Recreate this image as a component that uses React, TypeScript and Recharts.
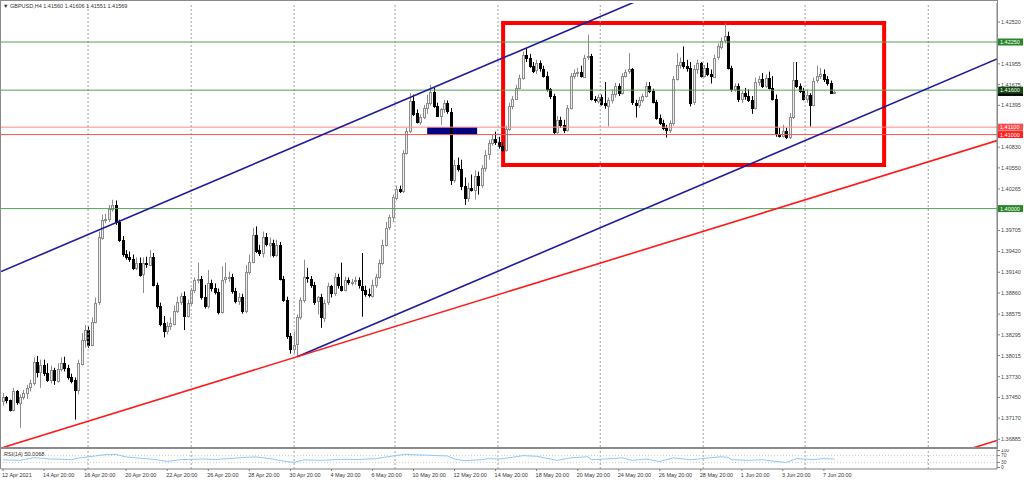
import React from 'react';
import { ComposedChart, Bar, Line, XAxis, YAxis, ReferenceLine, ReferenceArea } from 'recharts';

// ---------- data ----------
const symbolTitle = '▼ GBPUSD,H4  1.41560 1.41606 1.41551 1.41569';
const rsiTitle = 'RSI(14) 50.0068';

// H4 candles [open, high, low, close], from 12 Apr 2021 20:00
const candles: number[][] = [
[1.3739,1.3751,1.3734,1.3745],[1.3745,1.3747,1.3737,1.3741],[1.3741,1.3742,1.3726,1.3728],[1.3728,1.3758,1.3726,1.3753],
[1.3753,1.3755,1.3735,1.3738],[1.3738,1.3749,1.3704,1.3746],[1.3746,1.3755,1.3742,1.3751],[1.3751,1.3762,1.3743,1.3758],
[1.3758,1.3769,1.3753,1.3764],[1.3764,1.3799,1.3761,1.3793],[1.3793,1.3801,1.3772,1.3780],[1.3780,1.3796,1.3758,1.3789],
[1.3789,1.3796,1.3774,1.3778],[1.3778,1.3791,1.3766,1.3769],[1.3769,1.3788,1.3764,1.3782],[1.3782,1.3785,1.3762,1.3768],
[1.3768,1.3791,1.3765,1.3784],[1.3784,1.3799,1.3780,1.3792],[1.3792,1.3800,1.3780,1.3785],[1.3785,1.3789,1.3769,1.3773],
[1.3773,1.3777,1.3764,1.3768],[1.3768,1.3772,1.3715,1.3755],[1.3755,1.3796,1.3749,1.3791],[1.3791,1.3832,1.3788,1.3823],
[1.3823,1.3843,1.3812,1.3836],[1.3836,1.3841,1.3812,1.3816],[1.3816,1.3853,1.3814,1.3847],[1.3847,1.3880,1.3845,1.3873],
[1.3873,1.3969,1.3870,1.3961],[1.3961,1.3992,1.3958,1.3985],[1.3985,1.3993,1.3980,1.3986],[1.3986,1.4005,1.3982,1.4000],
[1.4000,1.4012,1.3996,1.4005],[1.4005,1.4011,1.3978,1.3982],[1.3982,1.3985,1.3955,1.3958],[1.3958,1.3963,1.3935,1.3939],
[1.3939,1.3944,1.3931,1.3935],[1.3935,1.3942,1.3928,1.3932],[1.3932,1.3938,1.3917,1.3920],[1.3920,1.3934,1.3917,1.3927],
[1.3927,1.3934,1.3908,1.3911],[1.3911,1.3934,1.3886,1.3926],[1.3926,1.3935,1.3920,1.3924],[1.3924,1.3944,1.3923,1.3935],
[1.3935,1.3940,1.3895,1.3897],[1.3897,1.3900,1.3865,1.3869],[1.3869,1.3873,1.3841,1.3845],[1.3845,1.3855,1.3826,1.3834],
[1.3834,1.3847,1.3830,1.3841],[1.3841,1.3853,1.3836,1.3845],[1.3845,1.3869,1.3842,1.3862],[1.3862,1.3881,1.3859,1.3874],
[1.3874,1.3886,1.3870,1.3882],[1.3882,1.3888,1.3836,1.3855],[1.3855,1.3877,1.3853,1.3873],[1.3873,1.3893,1.3869,1.3890],
[1.3890,1.3907,1.3886,1.3903],[1.3903,1.3927,1.3899,1.3905],[1.3905,1.3909,1.3877,1.3881],[1.3881,1.3897,1.3865,1.3869],
[1.3869,1.3917,1.3865,1.3900],[1.3900,1.3904,1.3888,1.3893],[1.3893,1.3899,1.3884,1.3888],[1.3888,1.3892,1.3857,1.3861],
[1.3861,1.3922,1.3858,1.3904],[1.3904,1.3927,1.3899,1.3907],[1.3907,1.3915,1.3901,1.3908],[1.3908,1.3912,1.3885,1.3889],
[1.3889,1.3893,1.3872,1.3876],[1.3876,1.3886,1.3870,1.3881],[1.3881,1.3885,1.3858,1.3862],[1.3862,1.3924,1.3859,1.3915],
[1.3915,1.3938,1.3911,1.3928],[1.3928,1.3974,1.3926,1.3965],[1.3965,1.3976,1.3940,1.3944],[1.3944,1.3951,1.3936,1.3940],
[1.3940,1.3969,1.3934,1.3961],[1.3961,1.3967,1.3949,1.3951],[1.3951,1.3961,1.3935,1.3954],[1.3954,1.3958,1.3934,1.3938],
[1.3938,1.3958,1.3935,1.3951],[1.3951,1.3955,1.3903,1.3905],[1.3905,1.3909,1.3874,1.3877],[1.3877,1.3881,1.3824,1.3828],
[1.3828,1.3832,1.3804,1.3811],[1.3811,1.3834,1.3805,1.3816],[1.3816,1.3857,1.3800,1.3853],[1.3853,1.3880,1.3850,1.3876],
[1.3876,1.3931,1.3873,1.3907],[1.3907,1.3920,1.3900,1.3905],[1.3905,1.3909,1.3893,1.3897],[1.3897,1.3901,1.3870,1.3874],
[1.3874,1.3882,1.3857,1.3880],[1.3880,1.3885,1.3839,1.3853],[1.3853,1.3877,1.3847,1.3873],[1.3873,1.3900,1.3870,1.3895],
[1.3895,1.3897,1.3880,1.3885],[1.3885,1.3913,1.3882,1.3907],[1.3907,1.3912,1.3892,1.3896],[1.3896,1.3927,1.3888,1.3890],
[1.3890,1.3908,1.3888,1.3903],[1.3903,1.3907,1.3897,1.3900],[1.3900,1.3905,1.3896,1.3901],[1.3901,1.3908,1.3897,1.3903],
[1.3903,1.3907,1.3892,1.3896],[1.3896,1.3940,1.3854,1.3890],[1.3890,1.3896,1.3881,1.3884],[1.3884,1.3892,1.3880,1.3882],
[1.3882,1.3904,1.3880,1.3897],[1.3897,1.3912,1.3893,1.3908],[1.3908,1.3931,1.3905,1.3927],[1.3927,1.3958,1.3924,1.3951],
[1.3951,1.3982,1.3949,1.3974],[1.3974,1.3992,1.3971,1.3988],[1.3988,1.4019,1.3982,1.4015],[1.4015,1.4031,1.4011,1.4027],
[1.4027,1.4031,1.4021,1.4024],[1.4024,1.4079,1.4021,1.4075],[1.4075,1.4109,1.4073,1.4105],[1.4105,1.4156,1.4102,1.4146],
[1.4146,1.4154,1.4125,1.4129],[1.4129,1.4134,1.4115,1.4117],[1.4117,1.4127,1.4113,1.4124],[1.4124,1.4140,1.4121,1.4136],
[1.4136,1.4154,1.4128,1.4143],[1.4143,1.4167,1.4139,1.4158],[1.4158,1.4163,1.4136,1.4139],[1.4139,1.4143,1.4124,1.4125],
[1.4125,1.4136,1.4113,1.4134],[1.4134,1.4147,1.4129,1.4142],[1.4142,1.4146,1.4128,1.4131],[1.4131,1.4136,1.4032,1.4039],
[1.4039,1.4066,1.4035,1.4059],[1.4059,1.4069,1.4050,1.4054],[1.4054,1.4066,1.4025,1.4031],[1.4031,1.4042,1.4005,1.4015],
[1.4015,1.4035,1.4009,1.4028],[1.4028,1.4046,1.4023,1.4025],[1.4025,1.4052,1.4012,1.4044],[1.4044,1.4050,1.4019,1.4032],
[1.4032,1.4059,1.4028,1.4055],[1.4055,1.4079,1.4050,1.4073],[1.4073,1.4093,1.4066,1.4088],[1.4088,1.4100,1.4085,1.4094],
[1.4094,1.4104,1.4086,1.4090],[1.4090,1.4097,1.4081,1.4084],[1.4084,1.4090,1.4077,1.4079],[1.4079,1.4112,1.4077,1.4108],
[1.4108,1.4143,1.4105,1.4139],[1.4139,1.4152,1.4134,1.4148],[1.4148,1.4167,1.4147,1.4163],[1.4163,1.4181,1.4161,1.4177],
[1.4177,1.4212,1.4174,1.4208],[1.4208,1.4217,1.4198,1.4204],[1.4204,1.4209,1.4190,1.4193],[1.4193,1.4198,1.4183,1.4186],
[1.4186,1.4201,1.4182,1.4196],[1.4196,1.4200,1.4185,1.4189],[1.4189,1.4193,1.4177,1.4179],[1.4179,1.4185,1.4158,1.4161],
[1.4161,1.4163,1.4148,1.4152],[1.4152,1.4155,1.4100,1.4104],[1.4104,1.4125,1.4101,1.4120],[1.4120,1.4124,1.4109,1.4113],
[1.4113,1.4120,1.4102,1.4106],[1.4106,1.4140,1.4104,1.4136],[1.4136,1.4183,1.4134,1.4179],[1.4179,1.4188,1.4175,1.4183],
[1.4183,1.4190,1.4178,1.4185],[1.4185,1.4193,1.4177,1.4179],[1.4179,1.4208,1.4177,1.4204],[1.4204,1.4235,1.4201,1.4206],
[1.4206,1.4209,1.4146,1.4148],[1.4148,1.4152,1.4143,1.4146],[1.4146,1.4154,1.4142,1.4151],[1.4151,1.4154,1.4139,1.4142],
[1.4142,1.4171,1.4135,1.4139],[1.4139,1.4150,1.4111,1.4147],[1.4147,1.4161,1.4142,1.4155],[1.4155,1.4170,1.4150,1.4166],
[1.4166,1.4169,1.4152,1.4156],[1.4156,1.4183,1.4154,1.4179],[1.4179,1.4188,1.4177,1.4185],[1.4185,1.4210,1.4182,1.4188],
[1.4188,1.4190,1.4140,1.4143],[1.4143,1.4147,1.4123,1.4140],[1.4140,1.4151,1.4136,1.4147],[1.4147,1.4155,1.4143,1.4152],
[1.4152,1.4171,1.4150,1.4166],[1.4166,1.4171,1.4156,1.4159],[1.4159,1.4162,1.4142,1.4144],[1.4144,1.4147,1.4120,1.4123],
[1.4123,1.4127,1.4113,1.4116],[1.4116,1.4120,1.4106,1.4109],[1.4109,1.4113,1.4096,1.4106],[1.4106,1.4119,1.4102,1.4115],
[1.4115,1.4179,1.4112,1.4175],[1.4175,1.4210,1.4173,1.4194],[1.4194,1.4204,1.4189,1.4198],[1.4198,1.4219,1.4189,1.4193],
[1.4193,1.4201,1.4185,1.4190],[1.4190,1.4198,1.4138,1.4143],[1.4143,1.4194,1.4140,1.4188],[1.4188,1.4201,1.4182,1.4196],
[1.4196,1.4198,1.4177,1.4179],[1.4179,1.4194,1.4177,1.4190],[1.4190,1.4197,1.4179,1.4182],[1.4182,1.4188,1.4169,1.4179],
[1.4179,1.4208,1.4177,1.4204],[1.4204,1.4223,1.4201,1.4219],[1.4219,1.4231,1.4215,1.4227],[1.4227,1.4250,1.4223,1.4233],
[1.4233,1.4239,1.4188,1.4190],[1.4190,1.4193,1.4158,1.4162],[1.4162,1.4169,1.4158,1.4166],[1.4166,1.4169,1.4144,1.4148],
[1.4148,1.4159,1.4143,1.4156],[1.4156,1.4163,1.4147,1.4152],[1.4152,1.4161,1.4144,1.4147],[1.4147,1.4152,1.4128,1.4136],
[1.4136,1.4177,1.4134,1.4171],[1.4171,1.4179,1.4166,1.4175],[1.4175,1.4183,1.4163,1.4166],[1.4166,1.4181,1.4163,1.4177],
[1.4177,1.4185,1.4161,1.4163],[1.4163,1.4179,1.4146,1.4148],[1.4148,1.4154,1.4097,1.4101],[1.4101,1.4109,1.4096,1.4098],
[1.4098,1.4113,1.4096,1.4105],[1.4105,1.4109,1.4094,1.4097],[1.4097,1.4129,1.4094,1.4124],[1.4124,1.4198,1.4121,1.4174],
[1.4174,1.4198,1.4163,1.4166],[1.4166,1.4169,1.4156,1.4159],[1.4159,1.4163,1.4146,1.4148],[1.4148,1.4161,1.4143,1.4154],
[1.4154,1.4156,1.4111,1.4140],[1.4140,1.4177,1.4138,1.4173],[1.4173,1.4193,1.4170,1.4179],[1.4179,1.4190,1.4175,1.4182],
[1.4182,1.4188,1.4171,1.4175],[1.4175,1.4179,1.4166,1.4169],[1.4169,1.4173,1.4155,1.4156],[1.4156,1.41606,1.41551,1.41569],
];

// bar positions of the time labels and their text
const timeTickBars = [0, 12, 24, 36, 48, 60, 72, 84, 96, 108, 120, 132, 144, 156, 168, 180, 192, 204, 216, 228, 240];
const timeTickLabels = ['12 Apr 2021', '14 Apr 20:00', '16 Apr 20:00', '20 Apr 20:00', '22 Apr 20:00', '26 Apr 20:00',
  '28 Apr 20:00', '30 Apr 20:00', '4 May 20:00', '6 May 20:00', '10 May 20:00', '12 May 20:00', '14 May 20:00',
  '18 May 20:00', '20 May 20:00', '24 May 20:00', '26 May 20:00', '28 May 20:00', '1 Jun 20:00', '3 Jun 20:00', '7 Jun 20:00'];
const gridBars = [24.85, 55, 85.1, 114.6, 144.7, 174.6, 204.7, 234.5, 270.5];

const priceTicks = [1.4252, 1.41955, 1.41675, 1.41395, 1.4083, 1.4055, 1.40265, 1.39705, 1.3942, 1.3914,
  1.3886, 1.38575, 1.38295, 1.38015, 1.3773, 1.3745, 1.3717, 1.36885];
const greenLevels = [1.4225, 1.416, 1.4];
const redLevels = [1.411, 1.41];
const bidPrice = 1.41569;

// trend lines: [bar, price] anchor pairs
const upperChannel = [[-0.6, 1.39149], [290.6, 1.44874]];
const lowerChannel = [[86, 1.38], [290.6, 1.42022]];
const redTrend = [[-0.6, 1.36765], [290.6, 1.40918]];
const redTrend2 = [[270, 1.36574], [290.6, 1.36868]];
// rectangles: [bar1, bar2, price1, price2]
const rangeBox = [146.2, 257.6, 1.40589, 1.42506];
const blueBlock = [124, 138.6, 1.41, 1.411];

// RSI(14) readings at bar positions
const rsiBars = [0,5,9,14,20,22,27,30,33,36,40,44,48,52,58,62,66,71,74,78,82,85,88,93,99,104,109,114,118,121,124,127,130,132,135,140,142,145,149,152,156,162,166,171,172,178,181,184,188,192,196,201,204,210,212,213,218,222,226,229,232,237,240,243];
const rsiValues = [45,42,58,50,46,55,68,76,77,62,55,48,36,46,50,47,52,60,62,52,38,30,45,42,48,47,52,68,78,74,73,70,68,50,40,46,52,50,60,70,66,42,57,63,46,52,57,42,50,35,57,45,52,63,60,46,42,46,35,30,52,47,52,50];
const rsiTicks = [0, 30, 70, 100];

// ---------- tables ----------
const candleRows = candles.map(([open, high, low, close], i) => ({ i, open, high, low, close, range: [low, high] }));
const rsiRows = rsiBars.map((b, k) => ({ i: b, rsi: rsiValues[k] }));

const FONT = "'Liberation Sans', Arial, sans-serif";
const X_DOMAIN: [number, number] = [-0.6, 290.6];

const CandleShape = (props: any) => {
  const { x, y, width, height, payload } = props;
  if (!payload || x == null || y == null) return null;
  const { open, close, high, low } = payload;
  const cx = Math.round(x + width / 2) + 0.5;
  const span = high - low;
  const toY = (v: number) => (span === 0 ? y : y + ((high - v) / span) * height);
  const yo = toY(open);
  const yc = toY(close);
  const bull = close >= open;
  const top = Math.round(Math.min(yo, yc)) + 0.5;
  const h = Math.max(Math.round(Math.abs(yo - yc)), 1);
  const col = bull ? '#8c8c8c' : '#000000';
  return (
    <g>
      <line x1={cx} x2={cx} y1={y} y2={y + height} stroke={col} strokeWidth={1} />
      <rect x={cx - 1} y={top} width={2} height={h} fill={bull ? '#eeeeee' : '#000000'} stroke={col} strokeWidth={1} />
    </g>
  );
};

const PriceTag = (props: any) => {
  const { viewBox, text, fill } = props;
  if (!viewBox) return null;
  const x = viewBox.x + viewBox.width + 1;
  const y = viewBox.y;
  return (
    <g>
      <rect x={x} y={y - 3.5} width={25} height={7} fill={fill} />
      {text ? <text x={x + 2} y={y + 2} fontSize={5.5} fill="#ffffff" fontFamily={FONT}>{text}</text> : null}
    </g>
  );
};

const TimeTick = (props: any) => {
  const { x, y, payload } = props;
  const k = timeTickBars.indexOf(payload.value);
  const label = k >= 0 ? timeTickLabels[k] : '';
  return (
    <g>
      <line x1={x} x2={x} y1={y} y2={y + 2} stroke="#808080" />
      <text x={x - 1} y={y + 7.5} fontSize={5.5} fill="#333333" fontFamily={FONT} textAnchor="start">{label}</text>
    </g>
  );
};

const seg = (p: number[][]) => [{ x: p[0][0], y: p[0][1] }, { x: p[1][0], y: p[1][1] }];

export default function App() {
  return (
    <div style={{ position: 'absolute', left: 0, top: 0, width: 1024, height: 480, background: '#ffffff', overflow: 'hidden' }}>
      <div style={{ position: 'absolute', left: 0, top: 0 }}>
        <ComposedChart width={1024} height={448} data={candleRows} margin={{ top: 3, right: 1, bottom: 1, left: 1 }}>
          <XAxis dataKey="i" type="number" domain={X_DOMAIN} allowDataOverflow hide />
          <YAxis orientation="right" type="number" domain={[1.3678, 1.42777]} allowDataOverflow ticks={priceTicks}
            interval={0} width={26} tickSize={3} tickMargin={1} axisLine={{ stroke: '#808080' }} tickLine={{ stroke: '#808080' }}
            tick={{ fontSize: 5.5, fill: '#444444', fontFamily: FONT }} tickFormatter={(v: number) => v.toFixed(5)} />
          {gridBars.map((g) => (
            <ReferenceLine key={'g' + g} x={g} stroke="#a0a0a0" strokeDasharray="2 2" />
          ))}
          <ReferenceLine y={bidPrice} stroke="none" label={(p: any) => <PriceTag {...p} text="" fill="#000000" />} />
          {greenLevels.map((v) => (
            <ReferenceLine key={'gl' + v} y={v} stroke="#55a055" strokeWidth={1}
              label={(p: any) => <PriceTag {...p} text={v.toFixed(5)} fill={v === 1.416 ? '#124a12' : '#2a862a'} />} />
          ))}
          {redLevels.map((v, k) => (
            <ReferenceLine key={'rl' + v} y={v} stroke={k === 0 ? '#ff8a8a' : '#ff5050'} strokeWidth={1}
              label={(p: any) => <PriceTag {...p} text={v.toFixed(5)} fill={k === 0 ? '#ff4a4a' : '#ff2020'} />} />
          ))}
          <Bar dataKey="range" barSize={3} shape={CandleShape} isAnimationActive={false} />
          <ReferenceArea x1={blueBlock[0]} x2={blueBlock[1]} y1={blueBlock[2]} y2={blueBlock[3]}
            fill="#000080" fillOpacity={1} stroke="none" />
          <ReferenceArea x1={rangeBox[0]} x2={rangeBox[1]} y1={rangeBox[2]} y2={rangeBox[3]}
            fill="none" stroke="#ff0000" strokeWidth={4} />
          <ReferenceLine segment={seg(upperChannel)} stroke="#1c1c9c" strokeWidth={1.6} ifOverflow="hidden" />
          <ReferenceLine segment={seg(lowerChannel)} stroke="#1c1c9c" strokeWidth={1.6} ifOverflow="hidden" />
          <ReferenceLine segment={seg(redTrend)} stroke="#ff1a1a" strokeWidth={1.6} ifOverflow="hidden" />
          <ReferenceLine segment={seg(redTrend2)} stroke="#ff1a1a" strokeWidth={1.6} ifOverflow="hidden" />
        </ComposedChart>
      </div>
      <div style={{ position: 'absolute', left: 0, top: 449 }}>
        <ComposedChart width={1024} height={31} data={rsiRows} margin={{ top: 0, right: 1, bottom: 0, left: 1 }}>
          <XAxis dataKey="i" type="number" domain={X_DOMAIN} allowDataOverflow ticks={timeTickBars} interval={0}
            height={11} tickSize={0} tickMargin={0} axisLine={{ stroke: '#808080' }} tick={<TimeTick />} />
          <YAxis orientation="right" type="number" domain={[-9, 109]} allowDataOverflow ticks={rsiTicks} interval={0}
            width={26} tickSize={3} tickMargin={1} axisLine={{ stroke: '#808080' }} tickLine={{ stroke: '#808080' }}
            tick={{ fontSize: 4.8, fill: '#444444', fontFamily: FONT }} />
          {gridBars.map((g) => (
            <ReferenceLine key={'rg' + g} x={g} stroke="#a0a0a0" strokeDasharray="2 2" />
          ))}
          <ReferenceLine y={70} stroke="#c8c8c8" strokeDasharray="1 2" />
          <ReferenceLine y={30} stroke="#c8c8c8" strokeDasharray="1 2" />
          <Line dataKey="rsi" type="linear" stroke="#8cc8f8" strokeWidth={1} dot={false} isAnimationActive={false} />
        </ComposedChart>
      </div>
      <svg width={1024} height={480} style={{ position: 'absolute', left: 0, top: 0, pointerEvents: 'none' }}>
        <rect x={0.5} y={0.5} width={997} height={447} fill="none" stroke="#8a8a8a" />
        <rect x={0} y={447} width={998} height={2} fill="#8a8a8a" />
        <line x1={0.5} x2={0.5} y1={449} y2={469} stroke="#8a8a8a" />
        <text x={3} y={8} fontSize={5.5} fill="#333333" fontFamily={FONT}>{symbolTitle}</text>
        <text x={4} y={455.5} fontSize={5.5} fill="#333333" fontFamily={FONT}>{rsiTitle}</text>
      </svg>
    </div>
  );
}
